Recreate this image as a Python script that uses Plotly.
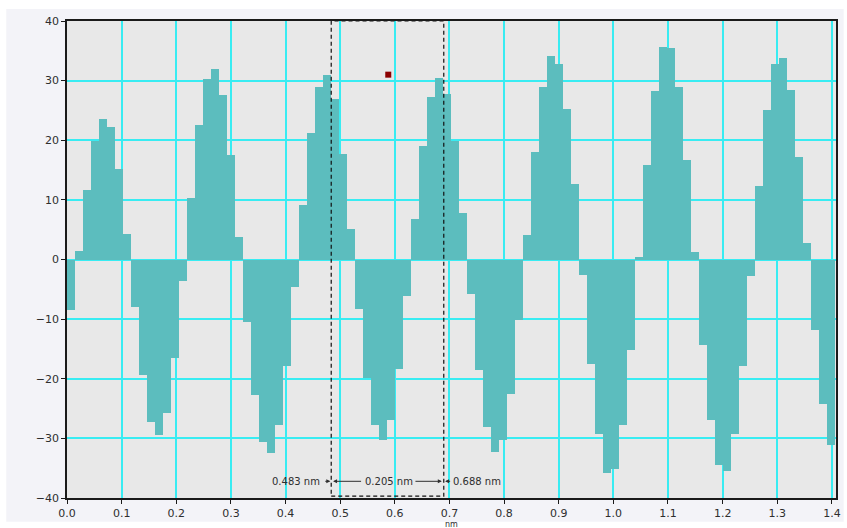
import plotly.graph_objects as go

# Sample spacing (nm) of the line profile
step_nm = 0.01464

# Profile heights per sample (left edge of each step)
heights = [
    -8.4, 1.4, 11.7, 19.9, 23.5, 22.2, 15.2, 4.3,
    -8.0, -19.4, -27.3, -29.5, -25.7, -16.5, -3.6,
    10.3, 22.5, 30.2, 32.0, 27.6, 17.5, 3.7,
    -10.5, -22.7, -30.6, -32.4, -27.7, -17.9, -4.6,
    9.2, 21.2, 28.9, 31.0, 27.0, 17.7, 5.1,
    -8.3, -19.9, -27.7, -30.2, -27.0, -18.3, -6.2,
    6.8, 19.1, 27.2, 30.4, 27.7, 19.9, 7.8,
    -5.8, -18.6, -28.1, -32.3, -30.3, -22.5, -10.2,
    4.1, 18.1, 28.9, 34.2, 32.8, 25.3, 12.7,
    -2.6, -17.5, -29.3, -35.8, -35.2, -27.7, -15.1,
    0.4, 15.9, 28.3, 35.7, 35.5, 28.9, 16.7, 1.2,
    -14.4, -27.0, -34.5, -35.5, -29.2, -17.8, -2.7,
    12.4, 25.1, 32.8, 33.8, 28.4, 17.2, 2.7,
    -11.9, -24.2, -31.1,
]
positions = [round(i * step_nm, 5) for i in range(len(heights))]

# Measurement cursors (nm)
cursor_left = 0.483
cursor_right = 0.688
cursor_gap_label = "0.205 nm"
marker_x = [0.588]
marker_y = [31.0]

x_ticks = [round(0.1 * i, 1) for i in range(15)]
y_ticks = [-40, -30, -20, -10, 0, 10, 20, 30, 40]

FONT = "DejaVu Sans"
TXT = "#2e2e2e"
GRID = "#38ecf2"

fig = go.Figure()
fig.add_trace(go.Bar(
    x=positions, y=heights, width=step_nm, offset=0,
    marker=dict(color="#5cbdbe", line=dict(width=0)),
    showlegend=False, hoverinfo="x+y",
))
fig.add_trace(go.Scatter(
    x=marker_x, y=marker_y, mode="markers",
    marker=dict(symbol="square", size=6, color="#8b0000"),
    showlegend=False,
))

shapes = [
    # light lavender panel behind the chart
    dict(type="rect", xref="paper", yref="paper",
         x0=-0.079, x1=1.01, y0=-0.050, y1=1.025,
         fillcolor="#f3f3f8", line=dict(width=0), layer="below"),
    # grey plot area
    dict(type="rect", xref="x domain", yref="y domain",
         x0=0, x1=1, y0=0, y1=1,
         fillcolor="#e8e8e8", line=dict(width=0), layer="below"),
    # dashed measurement box
    dict(type="rect", xref="x", yref="y",
         x0=cursor_left + 0.0006, x1=cursor_right + 0.0016, y0=-39.7, y1=40,
         line=dict(color="#111111", width=1.2, dash="4px,3px"),
         fillcolor="rgba(0,0,0,0)", layer="above"),
]

ann_y = -37.2
annotations = [
    dict(x=cursor_left - 0.0155, y=ann_y, xref="x", yref="y",
         text=f"{cursor_left:.3f} nm", showarrow=False, xanchor="right",
         font=dict(family=FONT, size=10, color=TXT)),
    dict(x=cursor_left - 0.001, y=ann_y, ax=cursor_left - 0.013, ay=ann_y,
         xref="x", yref="y", axref="x", ayref="y", text="",
         showarrow=True, arrowhead=2, arrowsize=0.8, arrowwidth=1, arrowcolor=TXT),
    dict(x=cursor_left + 0.004, y=ann_y, ax=cursor_left + 0.058, ay=ann_y,
         xref="x", yref="y", axref="x", ayref="y", text="",
         showarrow=True, arrowhead=2, arrowsize=0.8, arrowwidth=1, arrowcolor=TXT),
    dict(x=(cursor_left + cursor_right) / 2 + 0.003, y=ann_y, xref="x", yref="y",
         text=cursor_gap_label, showarrow=False,
         font=dict(family=FONT, size=10, color=TXT)),
    dict(x=cursor_right - 0.002, y=ann_y, ax=cursor_right - 0.053, ay=ann_y,
         xref="x", yref="y", axref="x", ayref="y", text="",
         showarrow=True, arrowhead=2, arrowsize=0.8, arrowwidth=1, arrowcolor=TXT),
    dict(x=cursor_right + 0.004, y=ann_y, ax=cursor_right + 0.016, ay=ann_y,
         xref="x", yref="y", axref="x", ayref="y", text="",
         showarrow=True, arrowhead=2, arrowsize=0.8, arrowwidth=1, arrowcolor=TXT),
    dict(x=cursor_right + 0.0155, y=ann_y, xref="x", yref="y",
         text=f"{cursor_right:.3f} nm", showarrow=False, xanchor="left",
         font=dict(family=FONT, size=10, color=TXT)),
    dict(x=0.5, y=0, xref="paper", yref="paper", yanchor="top", yshift=-20,
         text="nm", showarrow=False, font=dict(family=FONT, size=8, color=TXT)),
]

fig.update_layout(
    width=847, height=528,
    margin=dict(l=67, r=6, t=21, b=30),
    paper_bgcolor="white",
    plot_bgcolor="rgba(0,0,0,0)",
    bargap=0,
    shapes=shapes,
    annotations=annotations,
    font=dict(family=FONT, size=11, color=TXT),
)
axis_common = dict(
    showgrid=True, gridcolor=GRID, gridwidth=1.5,
    zeroline=False, showline=True, linecolor="#1a1a1a", linewidth=1.5, mirror=True,
    ticks="outside", ticklen=4, tickcolor="#1a1a1a",
    tickfont=dict(family=FONT, size=11, color=TXT),
)
fig.update_xaxes(range=[0, 1.4075], tickvals=x_ticks,
                 ticktext=[f"{v:.1f}" for v in x_ticks], **axis_common)
fig.update_yaxes(range=[-40, 40], tickvals=y_ticks, **axis_common)

fig.write_html("out.html")
